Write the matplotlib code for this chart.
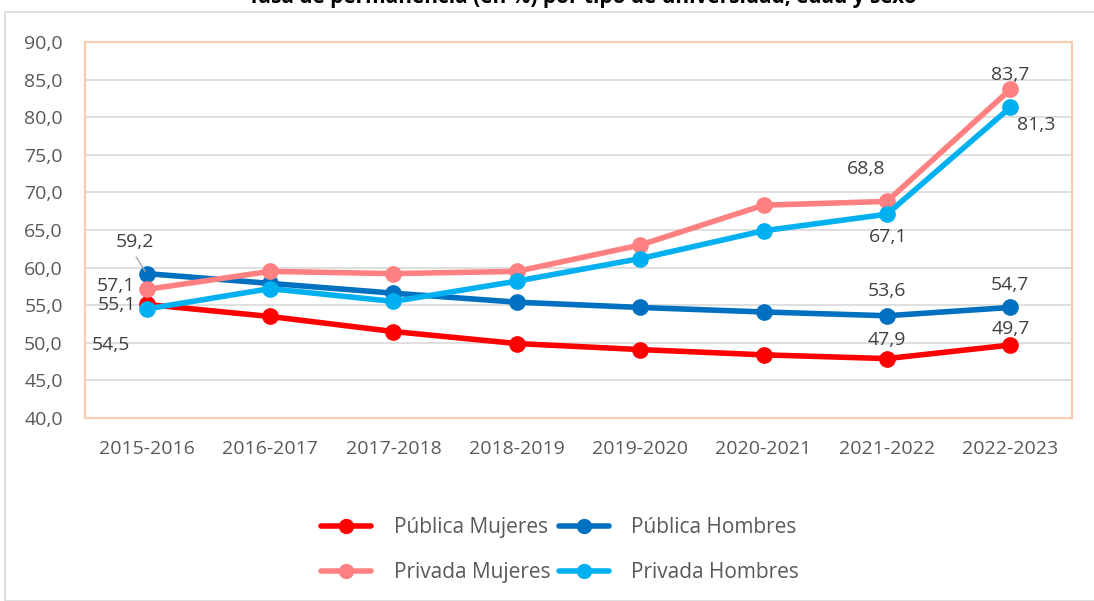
import matplotlib.pyplot as plt
from matplotlib.patches import Rectangle
from matplotlib.ticker import FuncFormatter

periodos = ['2015-2016', '2016-2017', '2017-2018', '2018-2019',
            '2019-2020', '2020-2021', '2021-2022', '2022-2023']
publica_mujeres = [55.1, 53.5, 51.5, 49.9, 49.1, 48.4, 47.9, 49.7]
publica_hombres = [59.2, 57.9, 56.6, 55.4, 54.7, 54.1, 53.6, 54.7]
privada_mujeres = [57.1, 59.5, 59.2, 59.5, 63.0, 68.3, 68.8, 83.7]
privada_hombres = [54.5, 57.2, 55.5, 58.2, 61.2, 64.9, 67.1, 81.3]

plt.rcParams['font.family'] = ['Open Sans', 'DejaVu Sans']
gris = '#595959'

fig = plt.figure(figsize=(10.94, 6.01), dpi=100)
ax = fig.add_axes([85 / 1094, 1 - 418 / 601, 987 / 1094, 376 / 601])

# borde exterior del grafico
fig.patches.append(Rectangle((5 / 1094, 0), 1.1, 1 - 12 / 601, transform=fig.transFigure,
                             fill=False, edgecolor='#d9d9d9', linewidth=1.2))

# titulo (en la referencia aparece recortado por arriba)
fig.text(0.532, 1 - 3 / 601, 'Tasa de permanencia (en %) por tipo de universidad, edad y sexo',
         ha='center', va='baseline', fontsize=15, fontweight='bold', color='black')

x = range(len(periodos))
series = [
    (publica_mujeres, '#FF0000', 'Pública Mujeres'),
    (publica_hombres, '#0070C0', 'Pública Hombres'),
    (privada_mujeres, '#FF8080', 'Privada Mujeres'),
    (privada_hombres, '#00B0F0', 'Privada Hombres'),
]
lineas = []
for vals, col, lab in series:
    l, = ax.plot(x, vals, color=col, linewidth=4, marker='o', markersize=11,
                 label=lab, solid_capstyle='round', zorder=3)
    lineas.append(l)

ax.set_xlim(-0.5, 7.5)
ax.set_ylim(40, 90)
ax.set_yticks(range(40, 91, 5))
ax.yaxis.set_major_formatter(FuncFormatter(lambda v, p: f'{v:.1f}'.replace('.', ',')))
ax.set_xticks(list(x))
ax.set_xticklabels(periodos)
ax.tick_params(length=0, labelsize=14, colors=gris)
ax.tick_params(axis='x', pad=16)
ax.tick_params(axis='y', pad=16)
ax.grid(axis='y', color='#d9d9d9', linewidth=1.2)
ax.set_axisbelow(True)
for s in ax.spines.values():
    s.set_color('#F8CBAD')
    s.set_linewidth(1.5)

def etiqueta(vals, i, dx, dy):
    ax.annotate(f'{vals[i]:.1f}'.replace('.', ','), (i, vals[i]), xytext=(dx, dy),
                textcoords='offset pixels', ha='center', va='center',
                fontsize=14, color='#404040', zorder=5)

etiqueta(publica_hombres, 0, -12, 32)
ax.annotate('', (0, publica_hombres[0]), xytext=(-12, 19), textcoords='offset pixels',
            arrowprops=dict(arrowstyle='-', color='#a6a6a6', lw=1))
etiqueta(privada_mujeres, 0, -31, 3)
etiqueta(publica_mujeres, 0, -30, -1)
etiqueta(privada_hombres, 0, -36, -36)
etiqueta(privada_mujeres, 6, -21, 32)
etiqueta(privada_hombres, 6, 1, -23)
etiqueta(publica_hombres, 6, 0, 25)
etiqueta(publica_mujeres, 6, 0, 19)
etiqueta(privada_mujeres, 7, 0, 14)
etiqueta(privada_hombres, 7, 26, -18)
etiqueta(publica_hombres, 7, 0, 22)
etiqueta(publica_mujeres, 7, 0, 16)

# orden por filas: Publica arriba, Privada abajo
orden = [lineas[0], lineas[2], lineas[1], lineas[3]]
leg = fig.legend(handles=orden, loc='center', bbox_to_anchor=(560 / 1094, 1 - 550 / 601), ncol=2,
                 frameon=False, fontsize=15, handlelength=2.4, handletextpad=1.1,
                 columnspacing=0.4, labelspacing=1.15)
for t in leg.get_texts():
    t.set_color(gris)
for h in leg.legend_handles:
    h.set_markersize(10)
    h.set_linewidth(4)

fig.savefig('out.png', dpi=100, facecolor='white')
